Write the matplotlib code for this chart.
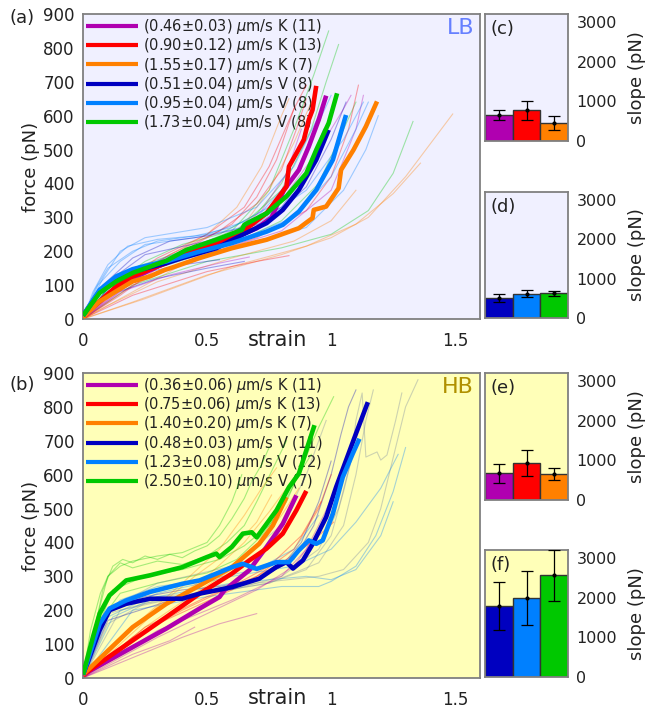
import matplotlib
matplotlib.use("Agg")
import matplotlib.pyplot as plt
import numpy as np

# ---- colours -------------------------------------------------------------
COLORS = {
    "k1": "#B000B0",
    "k2": "#FF0000",
    "k3": "#FF8000",
    "v1": "#0000C0",
    "v2": "#0080FF",
    "v3": "#00C800",
    "grey": "#7080A0",
}
LB_BG = "#F0F0FF"
HB_BG = "#FFFFB8"
ORDER = ["k1", "k2", "k3", "v1", "v2", "v3"]

# ---- legends ---------------------------------------------------------------
LB_LABELS = [
    r"(0.46$\pm$0.03) $\mu$m/s K (11)",
    r"(0.90$\pm$0.12) $\mu$m/s K (13)",
    r"(1.55$\pm$0.17) $\mu$m/s K (7)",
    r"(0.51$\pm$0.04) $\mu$m/s V (8)",
    r"(0.95$\pm$0.04) $\mu$m/s V (8)",
    r"(1.73$\pm$0.04) $\mu$m/s V (8)",
]
HB_LABELS = [
    r"(0.36$\pm$0.06) $\mu$m/s K (11)",
    r"(0.75$\pm$0.06) $\mu$m/s K (13)",
    r"(1.40$\pm$0.20) $\mu$m/s K (7)",
    r"(0.48$\pm$0.03) $\mu$m/s V (11)",
    r"(1.23$\pm$0.08) $\mu$m/s V (12)",
    r"(2.50$\pm$0.10) $\mu$m/s V (7)",
]

# ---- averaged force-strain curves (strain, force pN) ----------------------
LB_MEANS = {
    "k1": ([0, 0.07, 0.13, 0.2, 0.3, 0.4, 0.5, 0.6, 0.7, 0.76, 0.81, 0.87, 0.91, 0.95, 0.98],
           [10, 52, 92, 120, 155, 185, 212, 238, 268, 300, 381, 440, 509, 588, 659]),
    "k2": ([0, 0.067, 0.134, 0.2, 0.27, 0.336, 0.4, 0.47, 0.537, 0.6, 0.67, 0.74, 0.78, 0.82, 0.83, 0.86, 0.89, 0.91, 0.925, 0.94],
           [10, 52, 96, 126, 147, 165, 190, 209, 226, 244, 273, 312, 352, 391, 450, 489, 529, 588, 617, 688]),
    "k3": ([0, 0.067, 0.134, 0.2, 0.27, 0.33, 0.36, 0.47, 0.6, 0.74, 0.87, 0.925, 0.93, 0.98, 1.03, 1.04, 1.09, 1.14, 1.185],
           [5, 52, 82, 111, 126, 145, 152, 180, 209, 234, 268, 298, 322, 332, 386, 440, 499, 568, 642]),
    "v1": ([0, 0.067, 0.134, 0.2, 0.336, 0.4, 0.537, 0.644, 0.74, 0.805, 0.87, 0.94, 0.99],
           [10, 82, 121, 140, 165, 180, 209, 249, 283, 322, 381, 470, 558]),
    "v2": ([0, 0.067, 0.134, 0.2, 0.27, 0.336, 0.47, 0.6, 0.74, 0.805, 0.87, 0.94, 1.007, 1.06],
           [10, 86, 126, 147, 160, 170, 199, 224, 258, 278, 317, 381, 470, 602]),
    "v3": ([0, 0.067, 0.134, 0.2, 0.336, 0.416, 0.537, 0.64, 0.65, 0.74, 0.82, 0.9, 0.94, 0.99, 1.024],
           [10, 77, 111, 136, 172, 204, 234, 263, 278, 312, 362, 430, 499, 578, 666]),
}
HB_MEANS = {
    "k1": ([0, 0.2, 0.336, 0.47, 0.55, 0.57, 0.67, 0.74, 0.805, 0.86],
           [10, 91, 146, 205, 239, 259, 318, 387, 455, 539]),
    "k2": ([0, 0.2, 0.336, 0.47, 0.6, 0.67, 0.74, 0.805, 0.86, 0.9],
           [10, 111, 180, 249, 308, 347, 382, 426, 495, 552]),
    "k3": ([0, 0.2, 0.336, 0.47, 0.6, 0.71, 0.765, 0.82],
           [10, 150, 219, 273, 327, 396, 450, 534]),
    "v1": ([0, 0.067, 0.107, 0.174, 0.27, 0.4, 0.47, 0.6, 0.71, 0.78, 0.82, 0.846, 0.886, 0.926, 0.98, 1.02, 1.06, 1.1, 1.148],
           [10, 141, 200, 219, 234, 234, 249, 268, 293, 328, 342, 323, 347, 396, 475, 563, 642, 721, 814]),
    "v2": ([0, 0.067, 0.107, 0.174, 0.27, 0.4, 0.47, 0.537, 0.6, 0.644, 0.7, 0.78, 0.83, 0.87, 0.91, 0.94, 0.966, 1.007, 1.047, 1.087, 1.114],
           [10, 160, 205, 229, 254, 278, 288, 308, 327, 337, 322, 342, 342, 377, 406, 396, 406, 485, 593, 662, 706]),
    "v3": ([0, 0.04, 0.067, 0.107, 0.174, 0.27, 0.4, 0.5, 0.537, 0.55, 0.6, 0.644, 0.68, 0.7, 0.74, 0.78, 0.83, 0.87, 0.9, 0.933],
           [10, 121, 190, 244, 288, 303, 327, 357, 367, 357, 387, 426, 430, 415, 455, 495, 563, 603, 672, 746]),
}

# ---- individual traces: (group, strain, force) -----------------------------
LB_TRACES = [
    ("v3", [0, 0.1, 0.2, 0.4, 0.6, 0.75, 0.85, 0.93, 0.99], [0, 90, 150, 200, 260, 380, 560, 720, 850]),
    ("v3", [0, 0.15, 0.35, 0.6, 0.8, 0.92, 0.98, 1.03], [0, 110, 180, 250, 380, 560, 700, 810]),
    ("v3", [0, 0.2, 0.5, 0.8, 1.0, 1.15, 1.25, 1.33], [0, 100, 170, 210, 250, 320, 430, 583]),
    ("v3", [0, 0.1, 0.3, 0.6, 0.8, 0.95, 1.05, 1.1], [0, 80, 150, 220, 290, 400, 560, 640]),
    ("v3", [0, 0.1, 0.25, 0.4, 0.55, 0.7, 0.8, 0.88, 0.92], [0, 90, 170, 220, 250, 310, 400, 520, 620]),
    ("k3", [0, 0.2, 0.5, 0.8, 1.0, 1.15, 1.3, 1.49], [0, 50, 130, 190, 240, 300, 420, 605]),
    ("k3", [0, 0.25, 0.6, 0.9, 1.1, 1.25, 1.36], [0, 60, 155, 215, 280, 370, 460]),
    ("k3", [0, 0.12, 0.3, 0.5, 0.62, 0.72, 0.8, 0.83], [0, 70, 170, 250, 330, 450, 600, 650]),
    ("k3", [0, 0.1, 0.3, 0.6, 0.85, 1.0, 1.1], [0, 40, 110, 180, 230, 290, 380]),
    ("k3", [0, 0.2, 0.4, 0.55, 0.65, 0.75, 0.85, 0.92], [0, 80, 160, 220, 280, 380, 520, 640]),
    ("k2", [0, 0.2, 0.5, 0.7, 0.83], [0, 70, 140, 170, 187]),
    ("k2", [0, 0.1, 0.3, 0.5, 0.65, 0.75, 0.85, 0.9], [0, 80, 180, 250, 330, 450, 620, 690]),
    ("k2", [0, 0.15, 0.35, 0.55, 0.7, 0.8, 0.86, 0.9], [0, 100, 190, 260, 340, 440, 560, 650]),
    ("k2", [0, 0.2, 0.45, 0.7, 0.9, 1.0, 1.07, 1.11], [0, 100, 180, 240, 320, 420, 560, 690]),
    ("k2", [0, 0.15, 0.3, 0.45, 0.6, 0.7, 0.78, 0.85], [0, 70, 150, 220, 280, 360, 470, 620]),
    ("k1", [0, 0.15, 0.35, 0.55, 0.67], [0, 80, 130, 165, 183]),
    ("k1", [0, 0.12, 0.3, 0.6, 0.8, 0.95, 1.05, 1.08], [0, 90, 170, 250, 350, 500, 620, 660]),
    ("k1", [0, 0.2, 0.5, 0.8, 1.0, 1.1, 1.13], [0, 110, 190, 260, 380, 560, 660]),
    ("k1", [0, 0.15, 0.3, 0.45, 0.6, 0.72, 0.82, 0.88], [0, 90, 150, 200, 250, 320, 430, 560]),
    ("v2", [0, 0.05, 0.1, 0.2, 0.3, 0.5, 0.7, 0.85, 0.95, 1.0], [0, 90, 150, 200, 230, 250, 300, 420, 580, 660]),
    ("v2", [0, 0.06, 0.15, 0.25, 0.45, 0.7, 0.9, 1.05, 1.13], [0, 100, 170, 220, 240, 280, 380, 530, 640]),
    ("v2", [0, 0.1, 0.3, 0.6, 0.9, 1.05, 1.14, 1.19], [0, 110, 170, 210, 270, 380, 500, 600]),
    ("v2", [0, 0.08, 0.15, 0.25, 0.5, 0.7, 0.85, 0.95], [0, 120, 200, 240, 270, 330, 450, 600]),
    ("v2", [0, 0.04, 0.1, 0.18, 0.3, 0.45, 0.6, 0.75, 0.88], [0, 80, 160, 215, 235, 245, 270, 330, 450]),
    ("v2", [0, 0.15, 0.4, 0.65, 0.85, 1.0, 1.1, 1.15], [0, 130, 200, 240, 300, 420, 560, 640]),
    ("v1", [0, 0.1, 0.2, 0.4, 0.55], [0, 90, 130, 160, 175]),
    ("v1", [0, 0.1, 0.25, 0.5, 0.75, 0.9, 1.0, 1.06], [0, 110, 190, 230, 290, 390, 530, 640]),
    ("v1", [0, 0.08, 0.2, 0.35, 0.5, 0.65, 0.8, 0.9, 0.97], [0, 100, 180, 230, 245, 270, 330, 430, 560]),
    ("v1", [0, 0.1, 0.3, 0.5, 0.65], [0, 70, 120, 150, 170]),
]
HB_TRACES = [
    ("v3", [0, 0.04, 0.08, 0.12, 0.16, 0.2, 0.25, 0.3, 0.35, 0.4, 0.45, 0.5, 0.55, 0.6, 0.65, 0.68, 0.72, 0.75],
     [0, 120, 260, 330, 350, 340, 360, 350, 365, 355, 375, 390, 420, 470, 530, 580, 630, 680]),
    ("v3", [0, 0.05, 0.1, 0.15, 0.2, 0.3, 0.4, 0.5, 0.58, 0.65, 0.7, 0.74, 0.78, 0.82],
     [0, 160, 300, 340, 325, 345, 335, 360, 400, 450, 520, 580, 640, 700]),
    ("v3", [0, 0.06, 0.12, 0.25, 0.4, 0.55, 0.65, 0.75, 0.82, 0.88, 0.95, 1.01],
     [0, 150, 260, 300, 320, 350, 390, 450, 520, 620, 740, 830]),
    ("v3", [0, 0.08, 0.15, 0.3, 0.5, 0.62, 0.72, 0.8, 0.87, 0.92],
     [0, 180, 250, 280, 310, 350, 420, 500, 600, 660]),
    ("v3", [0, 0.03, 0.07, 0.1, 0.15, 0.2, 0.3, 0.4, 0.5, 0.55, 0.6, 0.64],
     [0, 140, 250, 300, 330, 345, 360, 370, 400, 450, 520, 600]),
    ("grey", [0, 0.1, 0.3, 0.6, 0.8, 0.95, 1.03, 1.08, 1.1, 1.125, 1.14, 1.185, 1.2, 1.225, 1.26, 1.285],
     [0, 200, 240, 260, 300, 380, 500, 640, 760, 841, 652, 667, 643, 658, 760, 841]),
    ("grey", [0, 0.1, 0.3, 0.5, 0.75, 0.95, 1.05, 1.1, 1.14, 1.17], [0, 190, 230, 250, 280, 340, 450, 600, 760, 850]),
    ("grey", [0, 0.15, 0.4, 0.7, 0.95, 1.05, 1.15, 1.2, 1.25, 1.3, 1.35], [0, 200, 240, 280, 300, 320, 400, 500, 650, 800, 880]),
    ("grey", [0, 0.1, 0.3, 0.6, 0.8, 0.9, 0.95, 0.98], [0, 200, 280, 330, 450, 600, 700, 760]),
    ("grey", [0, 0.1, 0.25, 0.5, 0.75, 0.9, 1.0, 1.05, 1.1], [0, 160, 220, 250, 280, 320, 420, 550, 700]),
    ("v2", [0, 0.2, 0.5, 0.8, 0.95, 1.0, 1.1, 1.18, 1.25, 1.3], [0, 200, 240, 270, 270, 285, 330, 420, 550, 680]),
    ("v2", [0, 0.1, 0.3, 0.6, 0.85, 1.0, 1.1, 1.2, 1.27], [0, 180, 250, 300, 330, 380, 460, 560, 660]),
    ("v2", [0, 0.08, 0.15, 0.3, 0.5, 0.7, 0.85, 0.95], [0, 170, 230, 270, 290, 320, 380, 480]),
    ("v2", [0, 0.12, 0.3, 0.6, 0.9, 1.0, 1.1, 1.2, 1.25], [0, 180, 240, 280, 300, 290, 320, 420, 520]),
    ("v1", [0, 0.1, 0.4, 0.7, 0.85, 0.93, 1.0, 1.04, 1.07, 1.1], [0, 170, 240, 290, 350, 450, 600, 720, 800, 850]),
    ("v1", [0, 0.06, 0.12, 0.25, 0.4, 0.55, 0.7, 0.8, 0.88, 0.95, 1.0], [0, 150, 210, 240, 260, 270, 290, 330, 400, 520, 640]),
    ("k1", [0, 0.2, 0.4, 0.55, 0.7], [0, 60, 120, 160, 190]),
    ("k1", [0, 0.2, 0.35, 0.45], [0, 70, 110, 150]),
    ("k1", [0, 0.3, 0.6, 0.8, 0.9, 0.97, 1.02], [0, 140, 230, 300, 380, 480, 560]),
    ("k1", [0, 0.3, 0.5, 0.7, 0.85, 0.95], [0, 120, 190, 260, 330, 430]),
    ("k3", [0, 0.2, 0.4, 0.55, 0.65, 0.72, 0.78], [0, 150, 280, 380, 480, 560, 620]),
    ("k3", [0, 0.3, 0.5, 0.65, 0.75, 0.82], [0, 200, 300, 400, 490, 560]),
    ("k3", [0, 0.15, 0.3, 0.45, 0.6, 0.7, 0.76], [0, 110, 210, 300, 380, 460, 540]),
    ("k3", [0, 0.25, 0.45, 0.6, 0.7, 0.8, 0.87], [0, 150, 250, 320, 390, 480, 560]),
    ("k2", [0, 0.3, 0.6, 0.8, 0.92, 1.01], [0, 160, 260, 340, 400, 460]),
    ("k2", [0, 0.25, 0.5, 0.7, 0.85, 0.95, 1.0], [0, 150, 240, 300, 380, 500, 600]),
    ("k2", [0, 0.2, 0.4, 0.6, 0.75, 0.88, 0.96], [0, 120, 200, 270, 330, 420, 520]),
]

# ---- slope bar panels -------------------------------------------------------
LB_K_SLOPE = [650, 775, 455]
LB_K_ERR = [130, 240, 185]
LB_V_SLOPE = [500, 617, 634]
LB_V_ERR = [105, 95, 65]
HB_K_SLOPE = [672, 933, 655]
HB_K_ERR = [240, 335, 155]
HB_V_SLOPE = [1787, 1989, 2562]
HB_V_ERR = [610, 680, 640]

STRAIN_TICKS = [0, 0.5, 1, 1.5]
FORCE_TICKS = list(range(0, 1000, 100))
SLOPE_TICKS = [0, 1000, 2000, 3000]

TEXT = "#222222"
FRAME = "#808080"

plt.rcParams.update({
    "font.family": "DejaVu Sans",
    "text.color": TEXT,
    "axes.labelcolor": TEXT,
    "xtick.color": TEXT,
    "ytick.color": TEXT,
})


def style_frame(ax, bg):
    ax.set_facecolor(bg)
    for sp in ax.spines.values():
        sp.set_color(FRAME)
        sp.set_linewidth(1.3)
    ax.tick_params(length=0)


def curve_panel(ax, bg, means, traces, labels, tag, tag_color, letter, letter_y, label_y):
    style_frame(ax, bg)
    for group, s, f in traces:
        ax.plot(s, f, color=COLORS[group], lw=0.8, alpha=0.35, zorder=1)
    handles = []
    for key in ORDER:
        s, f = means[key]
        (ln,) = ax.plot(s, f, color=COLORS[key], lw=3.3, zorder=3,
                        solid_capstyle="butt", solid_joinstyle="round")
        handles.append(ln)
    leg = ax.legend(handles, labels, loc="upper left", frameon=False, fontsize=10.5,
                    handlelength=3.6, handletextpad=0.3, labelspacing=0.02,
                    borderaxespad=0.1, borderpad=0.1)
    # curves run over the legend text
    leg.set_zorder(0.5)
    for ln in leg.get_lines():
        ln.set_linewidth(3.0)
    ax.set_xlim(0, 1.6)
    ax.set_ylim(0, 900)
    ax.set_xticks(STRAIN_TICKS)
    ax.set_xticklabels(["0", "0.5", "1", "1.5"])
    ax.set_yticks(FORCE_TICKS)
    ax.tick_params(labelsize=12, pad=6)
    ax.tick_params(axis="x", pad=9)
    ax.set_ylabel("force (pN)", fontsize=13, labelpad=2)
    ax.set_xlabel("strain", fontsize=15)
    ax.xaxis.set_label_coords(0.49, label_y)
    ax.text(0.985, 0.955, tag, transform=ax.transAxes, ha="right", va="center",
            fontsize=16, color=tag_color)
    ax.figure.text(0.034, letter_y, letter, fontsize=13, ha="center", va="center")


def bar_panel(ax, bg, values, errors, keys, letter):
    style_frame(ax, bg)
    x = np.arange(len(values)) + 0.5
    ax.bar(x, values, width=1.0, color=[COLORS[k] for k in keys],
           edgecolor="#333333", linewidth=1.0, zorder=2)
    ax.errorbar(x, values, yerr=errors, fmt="o", color="black", ms=2,
                elinewidth=0.9, capsize=4, capthick=0.9, zorder=3)
    ax.set_xlim(0, 3)
    ax.set_ylim(0, 3200)
    ax.set_xticks([])
    ax.set_yticks(SLOPE_TICKS)
    ax.yaxis.tick_right()
    ax.yaxis.set_label_position("right")
    ax.tick_params(labelsize=11.5, pad=6)
    ax.set_ylabel("slope (pN)", fontsize=13, labelpad=8)
    ax.text(0.06, 0.88, letter, transform=ax.transAxes, ha="left", va="center",
            fontsize=13)


fig = plt.figure(figsize=(6.45, 7.11), dpi=100)

ax_a = fig.add_axes([0.1287, 0.5513, 0.6155, 0.429])
ax_b = fig.add_axes([0.1287, 0.0464, 0.6155, 0.429])
ax_c = fig.add_axes([0.752, 0.8017, 0.1287, 0.1786])
ax_d = fig.add_axes([0.752, 0.5527, 0.1287, 0.1772])
ax_e = fig.add_axes([0.752, 0.2968, 0.1287, 0.1786])
ax_f = fig.add_axes([0.752, 0.0478, 0.1287, 0.1786])

curve_panel(ax_a, LB_BG, LB_MEANS, LB_TRACES, LB_LABELS, "LB", "#6680FF", "(a)", 0.975, -0.036)
curve_panel(ax_b, HB_BG, HB_MEANS, HB_TRACES, HB_LABELS, "HB", "#B09000", "(b)", 0.459, -0.034)

bar_panel(ax_c, LB_BG, LB_K_SLOPE, LB_K_ERR, ["k1", "k2", "k3"], "(c)")
bar_panel(ax_d, LB_BG, LB_V_SLOPE, LB_V_ERR, ["v1", "v2", "v3"], "(d)")
bar_panel(ax_e, HB_BG, HB_K_SLOPE, HB_K_ERR, ["k1", "k2", "k3"], "(e)")
bar_panel(ax_f, HB_BG, HB_V_SLOPE, HB_V_ERR, ["v1", "v2", "v3"], "(f)")

fig.savefig("out.png", dpi=100)
